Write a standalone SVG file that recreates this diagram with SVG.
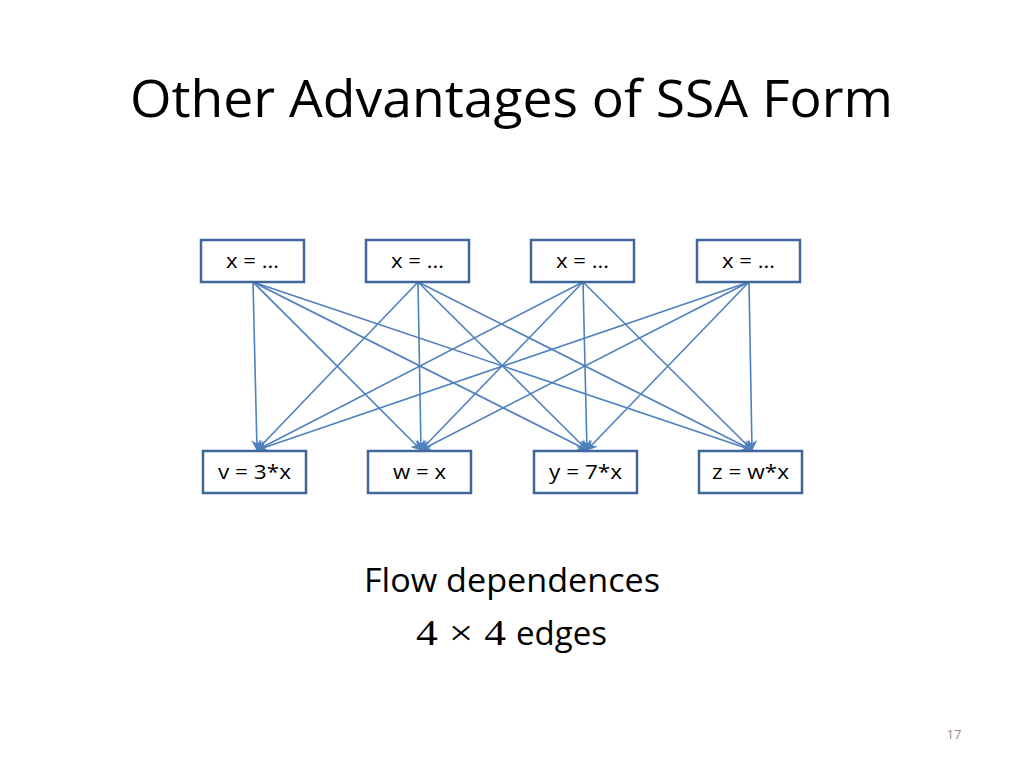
<svg xmlns="http://www.w3.org/2000/svg" width="1024" height="768" viewBox="0 0 1024 768">
<style>
.box{fill:#fff;stroke:#41669a;stroke-width:2.5}
.lbl{font-family:"Open Sans","Liberation Sans",sans-serif;font-size:20px;fill:#000;text-anchor:middle}
.edge{stroke:#4f81bd;stroke-width:1.6;fill:none;marker-end:url(#ah)}
.t{font-family:"Open Sans","Liberation Sans",sans-serif;fill:#000}
</style>
<defs>
<marker id="ah" viewBox="0 0 10 10" refX="9" refY="5" markerWidth="11" markerHeight="11" orient="auto" markerUnits="userSpaceOnUse">
<path d="M0,0 L10,5 L0,10 L3,5 z" fill="#4f81bd"/>
</marker>
</defs>
<rect width="1024" height="768" fill="#fff"/>
<text class="t" x="130" y="117" font-size="51" textLength="763" lengthAdjust="spacingAndGlyphs">Other Advantages of SSA Form</text>
<g id="connectors">
<line class="edge" x1="253" y1="282" x2="257" y2="450"/>
<line class="edge" x1="253" y1="282" x2="421" y2="450"/>
<line class="edge" x1="253" y1="282" x2="587" y2="450"/>
<line class="edge" x1="253" y1="282" x2="752" y2="450"/>
<line class="edge" x1="418" y1="282" x2="257" y2="450"/>
<line class="edge" x1="418" y1="282" x2="421" y2="450"/>
<line class="edge" x1="418" y1="282" x2="587" y2="450"/>
<line class="edge" x1="418" y1="282" x2="752" y2="450"/>
<line class="edge" x1="583" y1="282" x2="257" y2="450"/>
<line class="edge" x1="583" y1="282" x2="421" y2="450"/>
<line class="edge" x1="583" y1="282" x2="587" y2="450"/>
<line class="edge" x1="583" y1="282" x2="752" y2="450"/>
<line class="edge" x1="749" y1="282" x2="257" y2="450"/>
<line class="edge" x1="749" y1="282" x2="421" y2="450"/>
<line class="edge" x1="749" y1="282" x2="587" y2="450"/>
<line class="edge" x1="749" y1="282" x2="752" y2="450"/>
</g>
<g id="d1"><rect class="box" x="201" y="240" width="103" height="42"/><text class="lbl" x="252.5" y="268" textLength="53" lengthAdjust="spacingAndGlyphs">x = …</text></g>
<g id="d2"><rect class="box" x="366" y="240" width="103" height="42"/><text class="lbl" x="417.5" y="268" textLength="53" lengthAdjust="spacingAndGlyphs">x = …</text></g>
<g id="d3"><rect class="box" x="531" y="240" width="103" height="42"/><text class="lbl" x="582.5" y="268" textLength="53" lengthAdjust="spacingAndGlyphs">x = …</text></g>
<g id="d4"><rect class="box" x="697" y="240" width="103" height="42"/><text class="lbl" x="748.5" y="268" textLength="53" lengthAdjust="spacingAndGlyphs">x = …</text></g>
<g id="u1"><rect class="box" x="203" y="451" width="103" height="42"/><text class="lbl" x="254.5" y="479" textLength="73" lengthAdjust="spacingAndGlyphs">v = 3*x</text></g>
<g id="u2"><rect class="box" x="368" y="451" width="103" height="42"/><text class="lbl" x="419.5" y="479" textLength="53" lengthAdjust="spacingAndGlyphs">w = x</text></g>
<g id="u3"><rect class="box" x="534" y="451" width="103" height="42"/><text class="lbl" x="585.5" y="479" textLength="73" lengthAdjust="spacingAndGlyphs">y = 7*x</text></g>
<g id="u4"><rect class="box" x="699" y="451" width="103" height="42"/><text class="lbl" x="750.5" y="479" textLength="77" lengthAdjust="spacingAndGlyphs">z = w*x</text></g>
<text class="t" x="512" y="592" font-size="32" text-anchor="middle" textLength="296" lengthAdjust="spacingAndGlyphs">Flow dependences</text>
<text x="416" y="645" font-size="36" font-family="'Liberation Serif',serif" fill="#000" textLength="90" lengthAdjust="spacingAndGlyphs">4 × 4</text>
<text class="t" x="516" y="645" font-size="32" textLength="91" lengthAdjust="spacingAndGlyphs">edges</text>
<text x="954" y="739" font-size="13" font-family="'Open Sans','Liberation Sans',sans-serif" style="fill:#8c8c8c" text-anchor="middle">17</text>
</svg>
